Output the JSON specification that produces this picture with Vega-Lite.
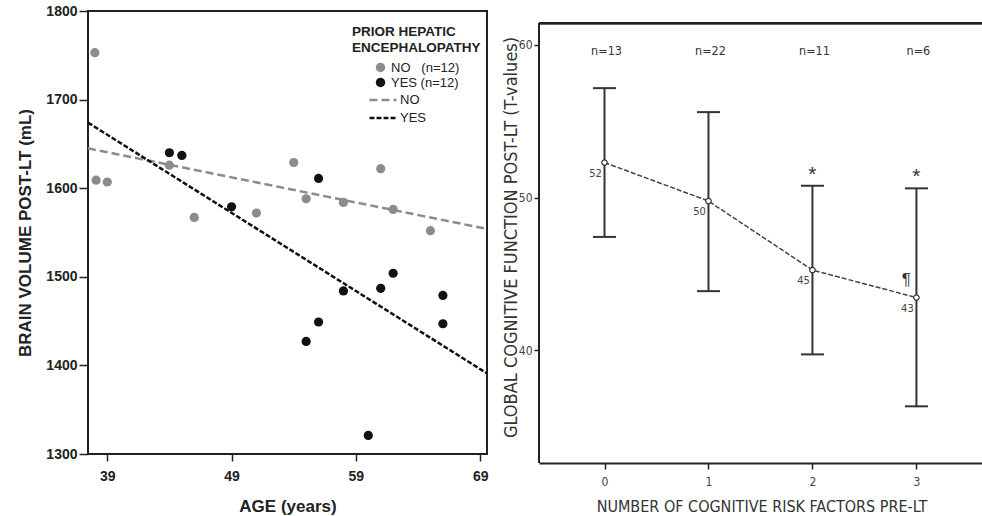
{
  "$schema": "https://vega.github.io/schema/vega-lite/v6.json",
  "background": "white",
  "padding": {"left": 15, "top": 3, "right": 0, "bottom": 0},
  "spacing": 9,
  "config": {
    "view": {"stroke": "#222", "strokeWidth": 2},
    "axis": {"grid": false, "domain": false, "tickColor": "#222", "tickWidth": 1.5},
    "legend": {"padding": 0}
  },
  "datasets": {
    "scatter": [
      {"age": 38.0, "vol": 1753, "he": "NO"},
      {"age": 38.1, "vol": 1609, "he": "NO"},
      {"age": 39.0, "vol": 1607, "he": "NO"},
      {"age": 44.0, "vol": 1626, "he": "NO"},
      {"age": 46.0, "vol": 1567, "he": "NO"},
      {"age": 51.0, "vol": 1572, "he": "NO"},
      {"age": 54.0, "vol": 1629, "he": "NO"},
      {"age": 55.0, "vol": 1588, "he": "NO"},
      {"age": 58.0, "vol": 1584, "he": "NO"},
      {"age": 61.0, "vol": 1622, "he": "NO"},
      {"age": 62.0, "vol": 1576, "he": "NO"},
      {"age": 65.0, "vol": 1552, "he": "NO"},
      {"age": 44.0, "vol": 1640, "he": "YES"},
      {"age": 45.0, "vol": 1637, "he": "YES"},
      {"age": 49.0, "vol": 1579, "he": "YES"},
      {"age": 56.0, "vol": 1611, "he": "YES"},
      {"age": 55.0, "vol": 1427, "he": "YES"},
      {"age": 56.0, "vol": 1449, "he": "YES"},
      {"age": 58.0, "vol": 1484, "he": "YES"},
      {"age": 60.0, "vol": 1321, "he": "YES"},
      {"age": 61.0, "vol": 1487, "he": "YES"},
      {"age": 62.0, "vol": 1504, "he": "YES"},
      {"age": 66.0, "vol": 1479, "he": "YES"},
      {"age": 66.0, "vol": 1447, "he": "YES"}
    ],
    "fits": [
      {"age": 37.45, "vol": 1645, "fit": "NO line"},
      {"age": 69.55, "vol": 1554, "fit": "NO line"},
      {"age": 37.45, "vol": 1674, "fit": "YES line"},
      {"age": 69.55, "vol": 1391, "fit": "YES line"}
    ],
    "cog": [
      {"risk": 0, "mean": 52.3, "lo": 47.43, "hi": 57.17, "lab": "52", "n": "n=13", "star": "", "para": ""},
      {"risk": 1, "mean": 49.78, "lo": 43.88, "hi": 55.6, "lab": "50", "n": "n=22", "star": "", "para": ""},
      {"risk": 2, "mean": 45.26, "lo": 39.74, "hi": 50.78, "lab": "45", "n": "n=11", "star": "*", "para": ""},
      {"risk": 3, "mean": 43.46, "lo": 36.34, "hi": 50.61, "lab": "43", "n": "n=6", "star": "*", "para": "¶"}
    ]
  },
  "hconcat": [
    {
      "width": 399,
      "height": 443,
      "layer": [
        {
          "data": {"name": "fits"},
          "mark": {"type": "line", "strokeWidth": 2.5},
          "encoding": {
            "x": {"field": "age", "type": "quantitative"},
            "y": {"field": "vol", "type": "quantitative"},
            "stroke": {
              "field": "fit", "type": "nominal",
              "scale": {"domain": ["NO line", "YES line"], "range": ["#8c8c8c", "#111111"]},
              "legend": {
                "title": null, "orient": "none", "legendX": 280, "legendY": 82,
                "symbolType": "stroke", "symbolSize": 729, "symbolStrokeWidth": 2.5, "clipHeight": 14,
                "labelFont": "Liberation Sans", "labelFontSize": 13, "labelColor": "#222",
                "rowPadding": 4, "labelOffset": 2,
                "labelExpr": "replace(datum.label, ' line', '')"
              }
            },
            "strokeDash": {
              "field": "fit", "type": "nominal",
              "scale": {"domain": ["NO line", "YES line"], "range": [[8, 4], [5, 2]]},
              "legend": null
            }
          }
        },
        {
          "data": {"name": "scatter"},
          "mark": {"type": "point", "shape": "circle", "filled": true, "opacity": 1, "size": 85},
          "encoding": {
            "x": {
              "field": "age", "type": "quantitative",
              "scale": {"domain": [37.45, 69.55], "nice": false, "zero": false},
              "axis": {
                "values": [39, 49, 59, 69], "title": "AGE (years)", "format": "d",
                "tickSize": 7, "labelPadding": 8,
                "labelFont": "Liberation Sans", "labelFontSize": 14, "labelFontWeight": "bold", "labelColor": "#222",
                "titleFont": "Liberation Sans", "titleFontSize": 17, "titleFontWeight": "bold", "titleColor": "#222",
                "titlePadding": 15
              }
            },
            "y": {
              "field": "vol", "type": "quantitative",
              "scale": {"domain": [1300, 1800], "nice": false, "zero": false},
              "axis": {
                "values": [1300, 1400, 1500, 1600, 1700, 1800], "title": "BRAIN VOLUME POST-LT (mL)", "format": "d",
                "tickSize": 9, "labelPadding": 2,
                "labelFont": "Liberation Sans", "labelFontSize": 14, "labelFontWeight": "bold", "labelColor": "#222",
                "titleFont": "Liberation Sans", "titleFontSize": 17, "titleFontWeight": "bold", "titleColor": "#222",
                "titlePadding": 11
              }
            },
            "fill": {
              "field": "he", "type": "nominal",
              "scale": {"domain": ["NO", "YES"], "range": ["#8c8c8c", "#111111"]},
              "legend": {
                "title": ["PRIOR HEPATIC", "ENCEPHALOPATHY"], "orient": "none", "legendX": 264, "legendY": 14,
                "titleFont": "Liberation Sans", "titleFontSize": 13.5, "titleFontWeight": "bold", "titleColor": "#222",
                "titlePadding": 7,
                "symbolType": "circle", "symbolSize": 90, "symbolOffset": 22,
                "labelFont": "Liberation Sans", "labelFontSize": 13, "labelColor": "#222", "rowPadding": 1,
                "labelExpr": "datum.label == 'NO' ? 'NO\u00a0\u00a0\u00a0(n=12)' : 'YES (n=12)'"
              }
            }
          }
        }
      ]
    },
    {
      "width": 445,
      "height": 452,
      "view": {"stroke": null},
      "data": {"name": "cog"},
      "layer": [
        {
          "mark": {"type": "rule", "strokeWidth": 2, "color": "#333"},
          "encoding": {
            "x": {
              "field": "risk", "type": "quantitative",
              "scale": {"domain": [-0.63, 3.65], "nice": false, "zero": false},
              "axis": {
                "values": [0, 1, 2, 3], "title": "NUMBER OF COGNITIVE RISK FACTORS PRE-LT", "format": "d",
                "domain": true, "domainColor": "#222", "domainWidth": 2,
                "tickSize": 6, "labelPadding": 7,
                "labelFont": "DejaVu Sans Condensed", "labelFontSize": 12, "labelColor": "#444",
                "titleFont": "DejaVu Sans Condensed", "titleFontSize": 16, "titleFontWeight": "normal", "titleColor": "#333",
                "titlePadding": 11
              }
            },
            "y": {
              "field": "lo", "type": "quantitative",
              "scale": {"domain": [32.63, 62.22], "nice": false, "zero": false},
              "axis": {
                "values": [40, 50, 60], "title": "GLOBAL COGNITIVE FUNCTION POST-LT (T-values)", "format": "d",
                "tickSize": 5, "labelPadding": 2,
                "labelFont": "DejaVu Sans Condensed", "labelFontSize": 12, "labelColor": "#444",
                "titleFont": "DejaVu Sans Condensed", "titleFontSize": 18, "titleFontWeight": "normal", "titleColor": "#333",
                "titlePadding": -2
              }
            },
            "y2": {"field": "hi"}
          }
        },
        {
          "mark": {"type": "rule", "strokeWidth": 2, "color": "#222"},
          "encoding": {
            "x": {"datum": -0.63, "type": "quantitative"},
            "y": {"datum": 32.63, "type": "quantitative"},
            "y2": {"datum": 61.42}
          }
        },
        {
          "mark": {"type": "rule", "strokeWidth": 2, "color": "#222"},
          "encoding": {"y": {"datum": 61.42, "type": "quantitative"}}
        },
        {
          "mark": {"type": "tick", "orient": "horizontal", "size": 23, "thickness": 2, "color": "#333", "opacity": 1},
          "encoding": {"x": {"field": "risk", "type": "quantitative"}, "y": {"field": "hi", "type": "quantitative"}}
        },
        {
          "mark": {"type": "tick", "orient": "horizontal", "size": 23, "thickness": 2, "color": "#333", "opacity": 1},
          "encoding": {"x": {"field": "risk", "type": "quantitative"}, "y": {"field": "lo", "type": "quantitative"}}
        },
        {
          "mark": {"type": "line", "strokeWidth": 1.5, "strokeDash": [5, 2], "color": "#444"},
          "encoding": {"x": {"field": "risk", "type": "quantitative"}, "y": {"field": "mean", "type": "quantitative"}}
        },
        {
          "mark": {"type": "point", "shape": "circle", "size": 30, "filled": false, "stroke": "#333", "strokeWidth": 1.2, "fill": "white", "fillOpacity": 1, "opacity": 1},
          "encoding": {"x": {"field": "risk", "type": "quantitative"}, "y": {"field": "mean", "type": "quantitative"}}
        },
        {
          "mark": {"type": "text", "dx": -9, "dy": 11, "font": "DejaVu Sans Condensed", "fontSize": 11, "color": "#444", "align": "center", "baseline": "middle"},
          "encoding": {"x": {"field": "risk", "type": "quantitative"}, "y": {"field": "mean", "type": "quantitative"}, "text": {"field": "lab"}}
        },
        {
          "mark": {"type": "text", "dx": 2, "font": "DejaVu Sans Condensed", "fontSize": 12.5, "color": "#333", "align": "center", "baseline": "middle"},
          "encoding": {"x": {"field": "risk", "type": "quantitative"}, "y": {"datum": 59.6, "type": "quantitative"}, "text": {"field": "n"}}
        },
        {
          "mark": {"type": "text", "dy": -11, "font": "Liberation Sans", "fontSize": 21, "color": "#333", "align": "center", "baseline": "middle"},
          "encoding": {"x": {"field": "risk", "type": "quantitative"}, "y": {"field": "hi", "type": "quantitative"}, "text": {"field": "star"}}
        },
        {
          "mark": {"type": "text", "dx": -10, "dy": -18, "font": "Liberation Sans", "fontSize": 17, "color": "#333", "align": "center", "baseline": "middle"},
          "encoding": {"x": {"field": "risk", "type": "quantitative"}, "y": {"field": "mean", "type": "quantitative"}, "text": {"field": "para"}}
        }
      ]
    }
  ]
}
